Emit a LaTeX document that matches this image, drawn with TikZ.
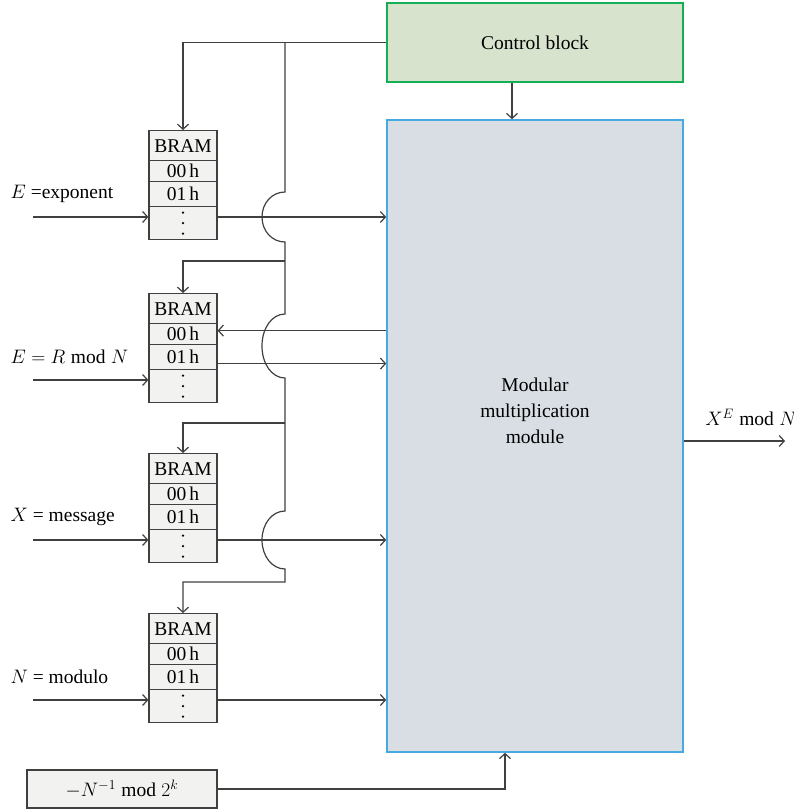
\documentclass[tikz,border=0pt]{standalone}
\usepackage{fontspec}
\setmainfont{Liberation Serif}
\usepackage{fix-cm}
\usepackage{xcolor}
\usetikzlibrary{arrows.meta,calc,positioning}

\begin{document}
\begin{tikzpicture}[x=1pt,y=-1pt,line width=1.2pt]
  \definecolor{wiregray}{RGB}{64,64,64}
  \definecolor{bramfill}{RGB}{242,243,240}
  \definecolor{ctrlgreen}{RGB}{20,175,85}
  \definecolor{ctrlfill}{RGB}{216,227,205}
  \definecolor{mmmblue}{RGB}{70,170,225}
  \definecolor{mmmfill}{RGB}{216,222,227}
  \tikzset{lbl/.style={font=\fontsize{19.5}{26}\selectfont,inner sep=0pt},
    cell/.style={lbl,draw=wiregray,fill=bramfill,minimum width=68pt,anchor=north},
    wire/.style={draw=wiregray,-{Straight Barb[length=5pt,width=11pt]}}}
  \useasboundingbox (0,0) rectangle (794,811);
  \node[lbl,draw=ctrlgreen,line width=1.6pt,fill=ctrlfill,minimum width=296pt,minimum height=79pt] (ctrl) at (535,42.5) {Control block};
  \node[draw=mmmblue,line width=1.6pt,fill=mmmfill,minimum width=296pt,minimum height=632pt] (mmm) at (535,436) {};
  \node[lbl,align=center] (mmmlbl) at (535,411) {Modular\\multiplication\\module};
  % BRAM stacks with their inputs
  \foreach \n/\t/\lab in {1/130/{$E$ =exponent},2/293/{$E = R \bmod N$},3/453/{$X$ = message},4/613/{$N$ = modulo}} {
    \node[cell,minimum height=30pt] (b\n) at (183,\t) {BRAM};
    \node[cell,minimum height=21pt] (b\n-0) at (183,\t+30) {00\,h};
    \node[cell,minimum height=25pt] (b\n-1) at (183,\t+51) {01\,h};
    \node[cell,minimum height=33pt] (b\n-d) at (183,\t+76) {};
    \foreach \k in {-10.5,0,10.5}
      \fill[black] ($(b\n-d.center)+(0,\k)$) circle (1.3pt);
    \coordinate (in\n) at (33,\t+87);
    \node[lbl,anchor=west] (l\n) at (10,\t+64) {\lab};
    \draw[wire] (in\n) -- (in\n -| b\n-d.west);
  }
  % outputs to the multiplier
  \draw[wire] (b1-d.east |- in1) -- (mmm.west |- in1);
  \draw[wire] ([yshift=3.5pt]mmm.west |- b2-0.east) -- ([yshift=3.5pt]b2-0.east);
  \draw[wire] ([yshift=-6.5pt]b2-1.east) -- ([yshift=-6.5pt]mmm.west |- b2-1.east);
  \draw[wire] (b3-d.east |- in3) -- (mmm.west |- in3);
  \draw[wire] (b4-d.east |- in4) -- (mmm.west |- in4);
  % control bus
  \coordinate (bustop) at (285,42.5);
  \coordinate (br2) at (285,261);
  \coordinate (br3) at (285,423);
  \draw[wire] (ctrl.west) -| (b1.north);
  \draw[wire] (bustop) -- (285,192) .. controls (272,192) and (262,203) .. (262,217)
    .. controls (262,231) and (272,242) .. (285,242) -- (285,314)
    .. controls (272,314) and (262,328) .. (262,346) .. controls (262,364) and (272,378) .. (285,378)
    -- (285,511) .. controls (272,511) and (262,524) .. (262,540)
    .. controls (262,556) and (272,569) .. (285,569) -- (285,582) -| (b4.north);
  \draw[wire] (br2) -| (b2.north);
  \draw[wire] (br3) -| (b3.north);
  \draw[wire] ([xshift=-23pt]ctrl.south) -- ([xshift=-23pt]mmm.north);
  % result and constant
  \coordinate (xout) at (785,441);
  \draw[wire] (mmm.east |- xout) -- (xout);
  \node[lbl] (xlbl) at (751,417) {$X^E \bmod N$};
  \node[lbl,draw=wiregray,fill=bramfill,minimum width=190pt,minimum height=38pt] (ninv) at (122,789) {$-N^{-1} \bmod 2^k$};
  \draw[wire] (ninv.east) -| ([xshift=-30pt]mmm.south);
\end{tikzpicture}
\end{document}
